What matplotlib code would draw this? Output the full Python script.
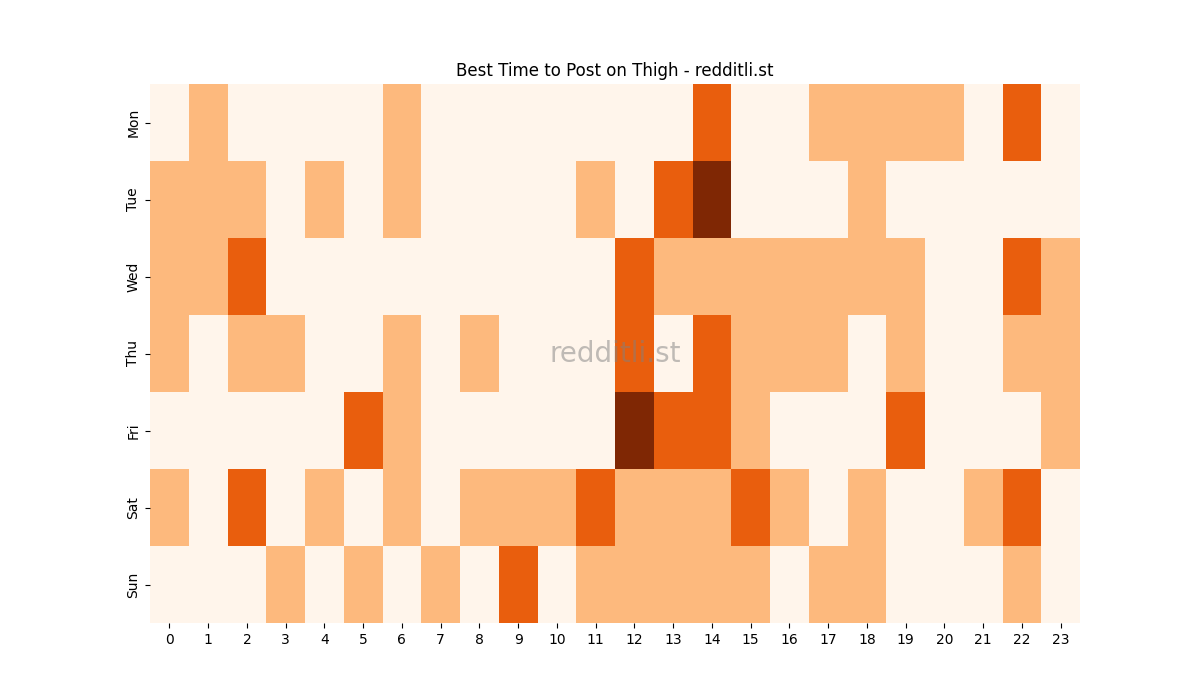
import numpy as np
import seaborn as sns
from matplotlib import pyplot as plt

days = ['Mon', 'Tue', 'Wed', 'Thu', 'Fri', 'Sat', 'Sun']
hours = list(range(24))

mon = [0, 1, 0, 0, 0, 0, 1, 0, 0, 0, 0, 0, 0, 0, 2, 0, 0, 1, 1, 1, 1, 0, 2, 0]
tue = [1, 1, 1, 0, 1, 0, 1, 0, 0, 0, 0, 1, 0, 2, 3, 0, 0, 0, 1, 0, 0, 0, 0, 0]
wed = [1, 1, 2, 0, 0, 0, 0, 0, 0, 0, 0, 0, 2, 1, 1, 1, 1, 1, 1, 1, 0, 0, 2, 1]
thu = [1, 0, 1, 1, 0, 0, 1, 0, 1, 0, 0, 0, 2, 0, 2, 1, 1, 1, 0, 1, 0, 0, 1, 1]
fri = [0, 0, 0, 0, 0, 2, 1, 0, 0, 0, 0, 0, 3, 2, 2, 1, 0, 0, 0, 2, 0, 0, 0, 1]
sat = [1, 0, 2, 0, 1, 0, 1, 0, 1, 1, 1, 2, 1, 1, 1, 2, 1, 0, 1, 0, 0, 1, 2, 0]
sun = [0, 0, 0, 1, 0, 1, 0, 1, 0, 2, 0, 1, 1, 1, 1, 1, 0, 1, 1, 0, 0, 0, 1, 0]

values = np.array([mon, tue, wed, thu, fri, sat, sun])

fig, ax = plt.subplots(figsize=(12, 7), dpi=100)
sns.heatmap(values, cmap='Oranges', vmin=0, vmax=3, cbar=False,
            xticklabels=hours, yticklabels=days, ax=ax)
ax.set_title('Best Time to Post on Thigh - redditli.st')
ax.text(0.5, 0.5, 'redditli.st', transform=ax.transAxes, ha='center', va='center',
        fontsize=20, color='gray', alpha=0.5)
plt.subplots_adjust(left=0.125, right=0.9, top=0.88, bottom=0.11)
plt.savefig('out.png')
